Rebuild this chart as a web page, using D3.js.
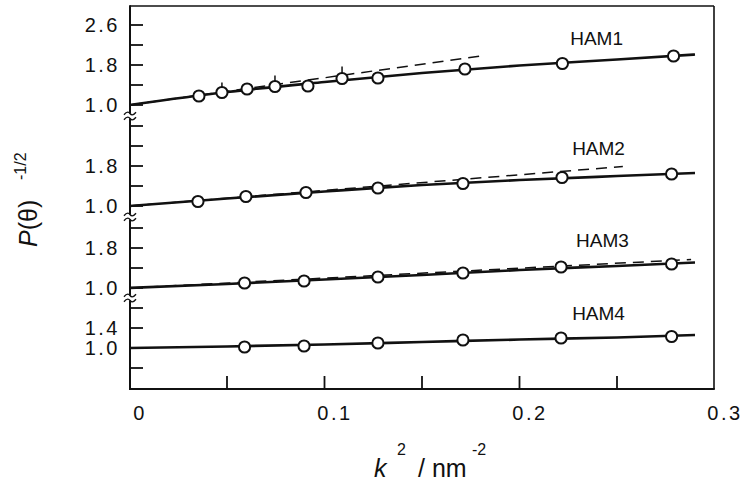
<!DOCTYPE html>
<html><head><meta charset="utf-8">
<script src="https://cdn.jsdelivr.net/npm/d3@7"></script>
<style>body{margin:0;background:#fff}svg{display:block}</style>
</head><body><svg id="c" width="743" height="483"></svg>
<script>
// ---------- data ----------
const samples = ["HAM1", "HAM2", "HAM3", "HAM4"];

const k2_HAM1 = [0.0356, 0.0474, 0.0603, 0.0746, 0.0915, 0.109, 0.1274, 0.172, 0.222, 0.279];
const P_HAM1  = [1.18, 1.25, 1.32, 1.37, 1.38, 1.53, 1.54, 1.72, 1.83, 1.98];
const err_HAM1 = [0, 0.2, 0, 0.22, 0, 0.24, 0, 0, 0, 0];

const k2_HAM2 = [0.0351, 0.0597, 0.0905, 0.1274, 0.171, 0.2218, 0.278];
const P_HAM2  = [1.09, 1.19, 1.27, 1.36, 1.45, 1.57, 1.64];

const k2_HAM3 = [0.059, 0.0895, 0.1274, 0.171, 0.2213, 0.278];
const P_HAM3  = [1.10, 1.14, 1.22, 1.30, 1.42, 1.48];

const k2_HAM4 = [0.059, 0.0895, 0.1274, 0.171, 0.2213, 0.278];
const P_HAM4  = [1.02, 1.04, 1.10, 1.16, 1.20, 1.23];

// solid fitted curves
const fitK2    = [0, 0.05, 0.1, 0.15, 0.2, 0.25, 0.29];
const fit_HAM1 = [1.0, 1.26, 1.46, 1.64, 1.79, 1.91, 2.01];
const fit_HAM2 = [1.0, 1.15, 1.29, 1.42, 1.52, 1.60, 1.66];
const fit_HAM3 = [1.0, 1.08, 1.17, 1.26, 1.36, 1.44, 1.51];
const fit_HAM4 = [1.0, 1.03, 1.07, 1.12, 1.17, 1.21, 1.26];

// dashed initial-slope lines
const tanK2_HAM1 = [0, 0.18],  tan_HAM1 = [1.0, 1.98];
const tanK2_HAM2 = [0, 0.253], tan_HAM2 = [1.0, 1.79];
const tanK2_HAM3 = [0, 0.288], tan_HAM3 = [1.0, 1.57];

// axes ticks
const xTicks = [0.05, 0.1, 0.15, 0.2, 0.25];
const xLabelValues = [0, 0.1, 0.2, 0.3];
const xTickLabels = ["0", "0.1", "0.2", "0.3"];

const yTicks_HAM1 = [1.0, 1.4, 1.8, 2.2, 2.6], yLabels_HAM1 = [1.0, 1.8, 2.6];
const yTicks_HAM2 = [1.0, 1.4, 1.8, 2.2, 2.6], yLabels_HAM2 = [1.0, 1.8];
const yTicks_HAM3 = [1.0, 1.4, 1.8, 2.2],      yLabels_HAM3 = [1.0, 1.8];
const yTicks_HAM4 = [0.6, 1.0, 1.4, 1.8],      yLabels_HAM4 = [1.0, 1.4];

// ---------- layout ----------
const svg = d3.select("#c");
const L = 130, R = 714, T = 6, B = 389;
const x = d3.scaleLinear().domain([0, 0.3]).range([129.5, 714.5]);

// each panel: 50 px per unit, panel pixel band [bottom, top]
const panels = [
  {name: "HAM1", band: [116, 6],   domain: [0.78, 2.98], k: k2_HAM1, P: P_HAM1, err: err_HAM1, fit: fit_HAM1, tk: tanK2_HAM1, tv: tan_HAM1, ticks: yTicks_HAM1, labels: yLabels_HAM1, lab: [0.226, 2.2]},
  {name: "HAM2", band: [217, 116], domain: [0.78, 2.80], k: k2_HAM2, P: P_HAM2, err: null, fit: fit_HAM2, tk: tanK2_HAM2, tv: tan_HAM2, ticks: yTicks_HAM2, labels: yLabels_HAM2, lab: [0.227, 2.02]},
  {name: "HAM3", band: [298, 217], domain: [0.80, 2.42], k: k2_HAM3, P: P_HAM3, err: null, fit: fit_HAM3, tk: tanK2_HAM3, tv: tan_HAM3, ticks: yTicks_HAM3, labels: yLabels_HAM3, lab: [0.229, 1.82]},
  {name: "HAM4", band: [389, 298], domain: [0.18, 2.00], k: k2_HAM4, P: P_HAM4, err: null, fit: fit_HAM4, tk: null, tv: null, ticks: yTicks_HAM4, labels: yLabels_HAM4, lab: [0.227, 1.56]}
];
panels.forEach(p => { p.y = d3.scaleLinear().domain(p.domain).range(p.band); });

const ink = "#111";
const tickFont = "'Liberation Sans', Arial, sans-serif";

// frame (top, right, bottom)
svg.append("line").attr("x1", L).attr("x2", R).attr("y1", T).attr("y2", T).attr("stroke", ink).attr("stroke-width", 1.6);
svg.append("line").attr("x1", R).attr("x2", R).attr("y1", T).attr("y2", B).attr("stroke", ink).attr("stroke-width", 1.6);
svg.append("line").attr("x1", L - 1).attr("x2", R + 0.8).attr("y1", B).attr("y2", B).attr("stroke", ink).attr("stroke-width", 2);

// left axis segments with breaks
const breaks = [116, 217, 298];
const segs = [[T - 0.8, breaks[0] - 2.5], [breaks[0] + 2.5, breaks[1] - 2.5], [breaks[1] + 2.5, breaks[2] - 2.5], [breaks[2] + 2.5, B]];
segs.forEach(s => svg.append("line").attr("x1", L).attr("x2", L).attr("y1", s[0]).attr("y2", s[1]).attr("stroke", ink).attr("stroke-width", 2));
breaks.forEach(by => {
  [-2.5, 2.5].forEach(off => {
    const yy = by + off;
    svg.append("path")
      .attr("d", `M${L - 6},${yy + 1.2} C${L - 3},${yy - 2.5} ${L - 1},${yy - 1.5} ${L},${yy} S${L + 3},${yy + 2.5} ${L + 6},${yy - 1.2}`)
      .attr("fill", "none").attr("stroke", ink).attr("stroke-width", 1.4);
  });
});

// x ticks (inward)
svg.selectAll(".xt").data(xTicks).enter().append("line")
  .attr("x1", d => x(d)).attr("x2", d => x(d)).attr("y1", B).attr("y2", B - 13)
  .attr("stroke", ink).attr("stroke-width", 1.8);
svg.selectAll(".xl").data(xLabelValues).enter().append("text")
  .attr("x", d => x(d) + 10.5).attr("y", 420)
  .attr("text-anchor", "middle")
  .attr("font-family", tickFont).attr("font-size", 20).attr("letter-spacing", 2.5)
  .attr("fill", ink)
  .text((d, i) => xTickLabels[i]);

// y ticks + labels per panel
panels.forEach(p => {
  svg.selectAll(null).data(p.ticks).enter().append("line")
    .attr("x1", L).attr("x2", L + 13).attr("y1", d => p.y(d)).attr("y2", d => p.y(d))
    .attr("stroke", ink).attr("stroke-width", 1.8);
  svg.selectAll(null).data(p.labels).enter().append("text")
    .attr("x", 120).attr("y", d => p.y(d)).attr("dy", "0.36em")
    .attr("text-anchor", "end")
    .attr("font-family", tickFont).attr("font-size", 20).attr("letter-spacing", 2.5)
    .attr("fill", ink)
    .text(d => d.toFixed(1));
});

// series
panels.forEach(p => {
  const line = d3.line().x(d => x(d[0])).y(d => p.y(d[1]));
  if (p.tk) {
    svg.append("path").attr("d", line(p.tk.map((k, i) => [k, p.tv[i]])))
      .attr("fill", "none").attr("stroke", ink).attr("stroke-width", 1.5).attr("stroke-dasharray", "11,7");
  }
  svg.append("path").attr("d", line.curve(d3.curveMonotoneX)(fitK2.map((k, i) => [k, p.fit[i]])))
    .attr("fill", "none").attr("stroke", ink).attr("stroke-width", 2.7);
  if (p.err) {
    svg.selectAll(null).data(p.k.map((k, i) => [k, p.P[i], p.err[i]]).filter(d => d[2] > 0)).enter().append("line")
      .attr("x1", d => x(d[0])).attr("x2", d => x(d[0]))
      .attr("y1", d => p.y(d[1])).attr("y2", d => p.y(d[1] + d[2]))
      .attr("stroke", ink).attr("stroke-width", 1.5);
  }
  svg.selectAll(null).data(p.k.map((k, i) => [k, p.P[i]])).enter().append("circle")
    .attr("cx", d => x(d[0])).attr("cy", d => p.y(d[1])).attr("r", 5.6)
    .attr("fill", "#fff").attr("stroke", ink).attr("stroke-width", 2);
  svg.append("text").attr("x", x(p.lab[0])).attr("y", p.y(p.lab[1]))
    .attr("font-family", tickFont).attr("font-size", 19).attr("fill", ink)
    .text(p.name);
});

// x title
const xt = svg.append("text").attr("font-family", tickFont).attr("fill", ink);
xt.append("tspan").attr("x", 374).attr("y", 477).attr("font-size", 25).attr("font-style", "italic").text("k");
xt.append("tspan").attr("x", 397).attr("y", 455).attr("font-size", 16).text("2");
xt.append("tspan").attr("x", 418).attr("y", 477).attr("font-size", 25).text("/ nm");
xt.append("tspan").attr("x", 472).attr("y", 455).attr("font-size", 16).text("-2");

// y title
const yt = svg.append("text").attr("transform", "translate(37,247) rotate(-90)")
  .attr("font-family", tickFont).attr("fill", ink);
yt.append("tspan").attr("x", 0).attr("y", 0).attr("font-size", 25).attr("font-style", "italic").text("P");
yt.append("tspan").attr("font-size", 25).text("(θ)");
yt.append("tspan").attr("x", 67).attr("y", -11).attr("font-size", 16).text("-1/2");
</script></body></html>
